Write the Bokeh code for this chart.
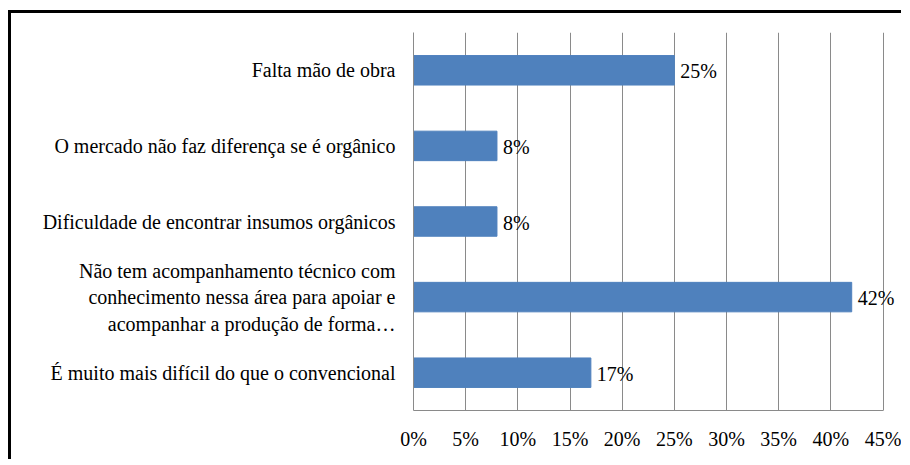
from bokeh.plotting import figure
from bokeh.layouts import column
from bokeh.models import ColumnDataSource, FactorRange, Range1d, FixedTicker, LabelSet
from bokeh.embed import file_html
from bokeh.resources import INLINE

categories = [
    "Falta mão de obra",
    "O mercado não faz diferença se é orgânico",
    "Dificuldade de encontrar insumos orgânicos",
    "Não tem acompanhamento técnico com\nconhecimento nessa área para apoiar e\nacompanhar a produção de forma…",
    "É muito mais difícil do que o convencional",
]
values = [25, 8, 8, 42, 17]
value_labels = ["25%", "8%", "8%", "42%", "17%"]
x_ticks = [0, 5, 10, 15, 20, 25, 30, 35, 40, 45]
x_tick_labels = ["0%", "5%", "10%", "15%", "20%", "25%", "30%", "35%", "40%", "45%"]

FONT = "Liberation Serif"
GRID = "#8a8a8a"

source = ColumnDataSource(dict(cat=categories, val=values, lbl=value_labels))

p = figure(
    frame_width=488, frame_height=375,
    y_range=FactorRange(*reversed(categories)),
    x_range=Range1d(0, 47.06),
    output_backend="svg", toolbar_location=None,
    min_border_left=402, min_border_right=0,
    min_border_top=19, min_border_bottom=52,
)
p.styles = {"border-top": "3px solid black", "border-left": "3px solid black"}
p.outline_line_color = None
p.background_fill_color = "white"
p.border_fill_color = "white"

p.hbar(y="cat", left=0, right="val", height=0.39, color="#4F81BD", source=source)
p.add_layout(LabelSet(x="val", y="cat", text="lbl", x_offset=6, y_offset=-1,
                      text_baseline="middle", text_font=FONT, text_font_size="20px",
                      text_color="black", source=source))

p.xaxis.ticker = FixedTicker(ticks=x_ticks)
p.xaxis.major_label_overrides = {t: l for t, l in zip(x_ticks, x_tick_labels)}
p.xaxis.bounds = (0, 45)
for ax in (p.xaxis, p.yaxis):
    ax.axis_line_color = GRID
    ax.major_tick_line_color = None
    ax.minor_tick_line_color = None
    ax.major_label_text_font = FONT
    ax.major_label_text_font_size = "20px"
    ax.major_label_text_color = "black"
p.xaxis.major_label_standoff = 11
p.yaxis.major_label_standoff = 12

p.ygrid.grid_line_color = None
p.xgrid.grid_line_color = GRID

layout = column(p, styles={"padding": "10px 0px 0px 8px", "background": "white"})

open("out.html", "w").write(file_html(layout, INLINE))
